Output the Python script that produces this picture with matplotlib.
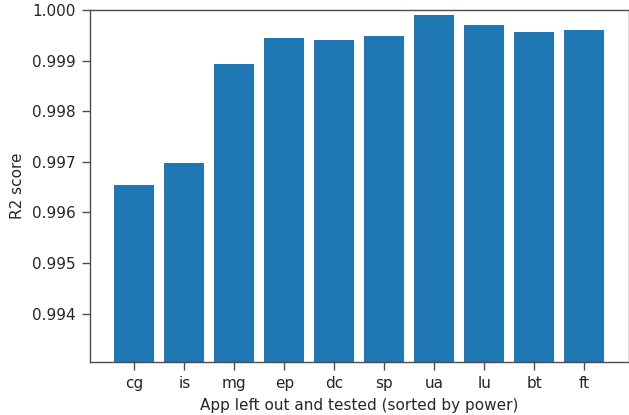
import matplotlib
matplotlib.use('Agg')
import matplotlib.pyplot as plt

# apps, sorted by power
apps = ['cg', 'is', 'mg', 'ep', 'dc', 'sp', 'ua', 'lu', 'bt', 'ft']
r2_scores = [0.996536, 0.996982, 0.998933, 0.999441, 0.999413,
             0.999480, 0.999895, 0.999698, 0.999571, 0.999599]

fs = 11
txt = '#262626'
edge = '#4d4d4d'
fig = plt.figure(figsize=(6.29, 4.15), dpi=100)
ax = fig.add_axes([90 / 629, 53.3 / 415, 538.5 / 629, 351.7 / 415])

ax.bar(apps, r2_scores, color='#1f77b4')
ax.set_ylim(0.99305, 1.000)
ax.set_yticks([0.994, 0.995, 0.996, 0.997, 0.998, 0.999, 1.000])
ax.set_yticklabels(['%.3f' % t for t in ax.get_yticks()])
ax.tick_params(labelsize=fs, length=5.5, pad=4.5, width=1.0,
               color=edge, labelcolor=txt)
for s in ax.spines.values():
    s.set_linewidth(1.0)
    s.set_color(edge)
ax.set_ylabel('R2 score', fontsize=fs, labelpad=5, color=txt)
ax.set_xlabel('App left out and tested (sorted by power)', fontsize=fs,
              labelpad=5, color=txt)

plt.savefig('out.png', dpi=100)
